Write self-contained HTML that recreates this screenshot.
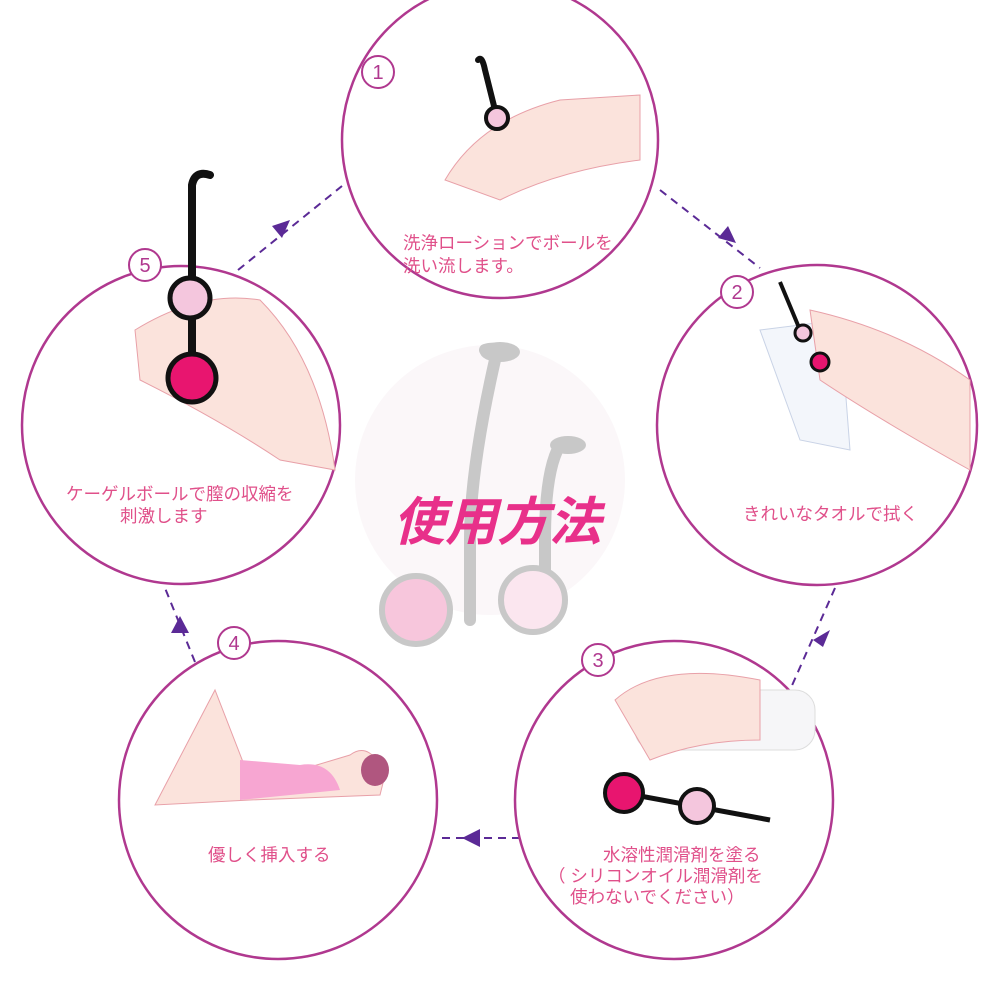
<!DOCTYPE html>
<html><head><meta charset="utf-8"><style>
html,body{margin:0;padding:0;background:#fff;width:1000px;height:1000px;overflow:hidden}
svg{display:block}
text{font-family:"Liberation Sans","Noto Sans CJK JP",sans-serif}
</style></head><body>
<svg width="1000" height="1000" viewBox="0 0 1000 1000">
<!-- center ghost -->
<circle cx="490" cy="480" r="135" fill="#fbf7f9"/>
<path d="M470 620 L470 540 Q470 470 495 360 Q500 345 485 350" fill="none" stroke="#c8c8c8" stroke-width="12" stroke-linecap="round"/>
<ellipse cx="500" cy="352" rx="20" ry="10" fill="#c8c8c8"/>
<circle cx="416" cy="610" r="34" fill="#f7c6dc" stroke="#c8c8c8" stroke-width="6"/>
<path d="M545 620 L545 540 Q545 470 560 445" fill="none" stroke="#c8c8c8" stroke-width="12" stroke-linecap="round"/>
<ellipse cx="568" cy="445" rx="18" ry="9" fill="#c8c8c8"/>
<circle cx="533" cy="600" r="32" fill="#fbe6ef" stroke="#c8c8c8" stroke-width="6"/>
<text x="497" y="540" text-anchor="middle" font-size="52" font-weight="bold" font-style="italic" fill="#e8308a">使用方法</text>

<!-- connectors -->
<g stroke="#5b2a96" stroke-width="2" stroke-dasharray="8,6" fill="none">
<path d="M660 190 L760 268"/>
<path d="M835 588 L790 690"/>
<path d="M520 838 L437 838"/>
<path d="M195 662 L165 588"/>
<path d="M238 270 L342 186"/>
</g>
<g fill="#5b2a96">
<polygon points="736,243 718,238 728,226" />
<polygon points="813,640 830,630 823,647" />
<polygon points="462,838 480,829 480,847" />
<polygon points="180,616 171,633 189,633" />
<polygon points="290,220 272,226 282,238" />
</g>

<!-- circles -->
<g fill="#fff" stroke="#b0388f" stroke-width="2.5">
<circle cx="500" cy="140" r="158"/>
<circle cx="817" cy="425" r="160"/>
<circle cx="674" cy="800" r="159"/>
<circle cx="278" cy="800" r="159"/>
<circle cx="181" cy="425" r="159"/>
</g>

<!-- illustrations -->
<path d="M445 180 Q480 120 560 100 L640 95 L640 160 Q560 170 500 200 Z" fill="#fbe3dc" stroke="#e8a0a8" stroke-width="1"/>
<path d="M497 118 L485 70 Q482 55 478 60" stroke="#111" stroke-width="6" fill="none" stroke-linecap="round"/>
<circle cx="497" cy="118" r="11" fill="#f4c6dd" stroke="#111" stroke-width="4"/>
<path d="M760 330 L840 320 L850 450 L800 440 Z" fill="#f3f6fb" stroke="#c9d3e6"/>
<path d="M810 310 Q900 330 970 380 L970 470 Q880 420 820 380 Z" fill="#fbe3dc" stroke="#e8a0a8" stroke-width="1"/>
<path d="M780 282 L800 330" stroke="#111" stroke-width="4" fill="none"/>
<circle cx="803" cy="333" r="8" fill="#f4c6dd" stroke="#111" stroke-width="3"/>
<circle cx="820" cy="362" r="9" fill="#e8156f" stroke="#111" stroke-width="3"/>
<rect x="635" y="690" width="180" height="60" rx="20" fill="#f6f6f8" stroke="#ddd"/>
<path d="M615 700 Q660 660 760 680 L760 740 Q700 740 650 760 Z" fill="#fbe3dc" stroke="#e8a0a8" stroke-width="1"/>
<line x1="624" y1="793" x2="770" y2="820" stroke="#111" stroke-width="5"/>
<circle cx="624" cy="793" r="19" fill="#e8156f" stroke="#111" stroke-width="4"/>
<circle cx="697" cy="806" r="17" fill="#f4c6dd" stroke="#111" stroke-width="4"/>
<path d="M155 805 L215 690 L250 780 L300 770 L350 755 Q370 740 385 775 L380 795 L250 800 Z" fill="#fbe3dc" stroke="#e8a0a8" stroke-width="1"/>
<path d="M240 760 L300 765 Q330 760 340 790 L240 800 Z" fill="#f7a6d2"/>
<ellipse cx="375" cy="770" rx="14" ry="16" fill="#b0567f"/>
<path d="M135 330 Q200 290 260 300 Q320 360 335 470 L280 460 Q220 420 140 380 Z" fill="#fbe3dc" stroke="#e8a0a8" stroke-width="1"/>
<path d="M192 298 L192 185 Q195 170 210 175" stroke="#111" stroke-width="8" fill="none" stroke-linecap="round"/>
<line x1="192" y1="298" x2="192" y2="378" stroke="#111" stroke-width="8"/>
<circle cx="190" cy="298" r="20" fill="#f4c6dd" stroke="#111" stroke-width="5"/>
<circle cx="192" cy="378" r="24" fill="#e8156f" stroke="#111" stroke-width="5"/>

<!-- badges -->
<g fill="#fff" stroke="#b0388f" stroke-width="2">
<circle cx="378" cy="72" r="16"/><circle cx="737" cy="292" r="16"/><circle cx="598" cy="660" r="16"/><circle cx="234" cy="643" r="16"/><circle cx="145" cy="265" r="16"/>
</g>
<g fill="#b0388f" font-size="20" text-anchor="middle">
<text x="378" y="79">1</text><text x="737" y="299">2</text><text x="598" y="667">3</text><text x="234" y="650">4</text><text x="145" y="272">5</text>
</g>

<!-- labels -->
<g fill="#e0508a" font-size="17.5">
<text x="403" y="249">洗浄ローションでボールを</text>
<text x="403" y="272">洗い流します。</text>
<text x="743" y="520">きれいなタオルで拭く</text>
<text x="603" y="861">水溶性潤滑剤を塗る</text>
<text x="548" y="882">（ シリコンオイル潤滑剤を</text>
<text x="570" y="903">使わないでください）</text>
<text x="208" y="861">優しく挿入する</text>
<text x="66" y="500">ケーゲルボールで膣の収縮を</text>
<text x="120" y="522">刺激します</text>
</g>
</svg>
</body></html>
